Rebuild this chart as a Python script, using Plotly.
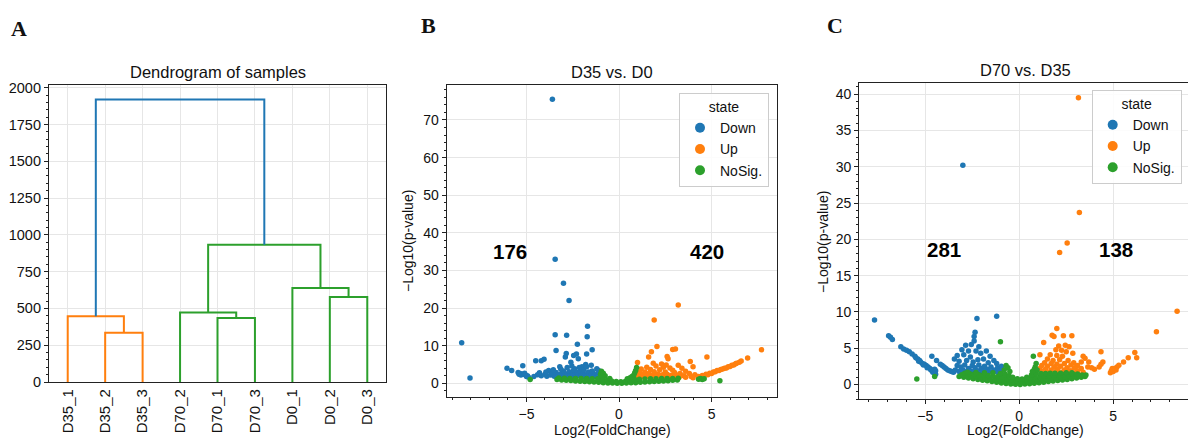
import plotly.graph_objects as go

# ---------------- data ----------------
# panel A: dendrogram (scipy style icoord / dcoord)
leaf_labels = ["D35_1", "D35_2", "D35_3", "D70_2", "D70_1", "D70_3", "D0_1", "D0_2", "D0_3"]
leaf_pos = [5, 15, 25, 35, 45, 55, 65, 75, 85]
link_x = [
    [15, 15, 25, 25],
    [5, 5, 20, 20],
    [45, 45, 55, 55],
    [35, 35, 50, 50],
    [75, 75, 85, 85],
    [65, 65, 80, 80],
    [42.5, 42.5, 72.5, 72.5],
    [12.5, 12.5, 57.5, 57.5],
]
link_y = [
    [0, 335, 335, 0],
    [0, 447, 447, 335],
    [0, 435, 435, 0],
    [0, 473, 473, 435],
    [0, 578, 578, 0],
    [0, 639, 639, 578],
    [473, 932, 932, 639],
    [447, 1920, 1920, 932],
]
link_color = ["C1", "C1", "C2", "C2", "C2", "C2", "C2", "C0"]

# panel B: D35 vs. D0 (log2FC, -log10 p)
b_down = [
    (-3.6, 75.5), (-3.45, 33.0), (-3.0, 26.6), (-2.7, 22.0), (-1.7, 15.2), (-3.45, 12.9),
    (-2.83, 12.8), (-1.72, 12.4), (-2.25, 10.4), (-8.5, 10.8), (-8.05, 1.4), (-6.05, 4.0),
    (-5.8, 3.4), (-5.2, 4.7), (-3.4, 8.7), (-1.45, 8.9), (-4.5, 6.0), (-4.2, 6.0),
    (-4.05, 6.4), (-2.85, 7.9), (-2.3, 7.8), (-2.45, 7.4), (-2.9, 7.0), (-2.2, 6.5),
    (-1.75, 7.8), (-2.6, 5.6), (-1.8, 5.0), (-2.0, 4.4), (-1.5, 4.8), (-3.2, 4.4),
    (-2.8, 4.2), (-2.4, 3.9), (-1.2, 3.9), (-1.1, 3.4),
    (-5.45, 2.9), (-5.35, 2.6), (-5.25, 2.5), (-5.15, 2.4), (-5.05, 2.2), (-4.95, 2.0),
    (-4.9, 1.7), (-5.3, 2.2), (-5.1, 2.7), (-5.0, 1.8), (-5.4, 2.4),
    (-4.4, 2.3), (-4.2, 2.0), (-4.0, 2.4), (-3.9, 1.9), (-3.8, 3.4), (-3.7, 2.2),
    (-3.6, 2.6), (-3.5, 1.9), (-3.4, 2.9), (-3.3, 2.3), (-3.2, 1.8), (-3.1, 2.7),
    (-3.0, 3.3), (-2.95, 2.1), (-2.9, 1.7), (-2.8, 2.5), (-2.7, 3.1), (-2.65, 2.0),
    (-2.6, 1.7), (-2.5, 2.6), (-2.45, 3.5), (-2.4, 2.2), (-2.3, 1.8), (-2.25, 2.9),
    (-2.2, 2.4), (-2.1, 3.2), (-2.05, 2.0), (-2.0, 1.7), (-1.95, 2.7), (-1.9, 3.6),
    (-1.85, 2.2), (-1.8, 1.9), (-1.7, 2.5), (-1.65, 3.0), (-1.6, 2.0), (-1.55, 1.7),
    (-1.5, 2.3), (-1.4, 2.8), (-1.35, 1.9), (-1.3, 2.2), (-1.2, 1.8), (-1.15, 2.5),
    (-1.1, 2.0), (-1.05, 1.6), (-4.3, 2.8), (-4.6, 1.8), (-3.95, 3.0), (-3.55, 3.6),
    (-3.15, 3.8), (-2.55, 4.6), (-2.15, 4.2), (-1.75, 4.4), (-1.45, 3.3),
]
b_up = [
    (3.2, 20.8), (1.9, 16.8), (2.05, 9.8), (2.9, 9.0), (3.05, 9.1), (7.7, 8.9),
    (4.75, 7.0), (6.95, 6.7), (1.6, 7.0), (1.75, 8.4), (2.6, 7.1), (2.65, 6.5),
    (3.85, 5.8), (1.0, 5.5), (1.85, 5.3), (2.3, 5.1), (2.55, 4.9), (3.2, 4.8),
    (2.0, 4.6), (2.4, 4.3), (1.5, 4.3), (2.75, 4.1), (3.4, 4.0), (1.2, 3.8),
    (1.7, 3.7), (2.2, 3.6), (2.9, 3.5), (3.6, 3.2), (1.1, 3.1), (1.4, 3.0),
    (1.9, 3.1), (2.5, 3.0), (3.0, 2.9), (3.3, 2.6), (1.05, 2.5), (1.3, 2.4),
    (1.6, 2.6), (1.8, 2.2), (2.1, 2.5), (2.35, 2.3), (2.6, 2.4), (2.8, 2.1),
    (3.1, 2.2), (3.5, 2.0), (1.0, 1.9), (1.25, 1.8), (1.5, 1.9), (1.75, 1.7),
    (2.0, 1.8), (2.25, 1.9), (2.5, 1.7), (2.75, 1.8), (3.0, 1.7), (3.25, 1.6),
    (3.6, 1.6), (3.9, 1.8), (4.1, 2.3), (3.8, 2.6), (4.0, 4.4), (4.0, 1.5),
    (4.3, 1.8), (4.5, 2.1), (4.7, 2.4), (4.9, 2.7), (5.1, 3.0), (5.3, 3.4),
    (5.5, 3.7), (5.7, 4.0), (5.9, 4.4), (6.1, 4.8), (6.3, 5.2), (6.5, 5.6),
    (6.6, 5.9), (4.6, 2.0), (4.8, 2.3), (5.0, 2.6), (5.2, 3.1), (5.4, 3.4),
    (5.6, 3.8), (5.8, 4.1), (6.0, 4.5), (6.2, 4.9), (6.35, 5.3),
]
b_nosig = [
    (-3.35, 1.0), (-3.1, 0.9), (-2.85, 0.8), (-2.6, 0.72), (-2.35, 0.62), (-2.1, 0.55),
    (-1.85, 0.48), (-1.6, 0.4), (-1.35, 0.32), (-1.1, 0.25), (-0.85, 0.18), (-0.6, 0.1),
    (-0.35, 0.05), (-0.1, 0.0), (0.15, 0.02), (0.4, 0.06), (0.65, 0.12), (0.9, 0.18),
    (1.15, 0.25), (1.4, 0.32), (1.65, 0.4), (1.9, 0.48), (2.15, 0.55), (2.4, 0.62),
    (2.65, 0.7), (2.9, 0.8), (3.15, 0.9),
    (-3.25, 1.4), (-2.95, 1.35), (-2.65, 1.3), (-2.35, 1.3), (-2.05, 1.25), (-1.75, 1.25),
    (-1.45, 1.2), (-1.15, 1.2), (-0.9, 1.1), (-0.65, 0.8), (-0.4, 0.6), (-0.15, 0.45),
    (0.1, 0.4), (0.35, 0.55), (0.6, 0.75), (0.85, 1.0), (1.1, 1.1), (1.4, 1.15),
    (1.7, 1.2), (2.0, 1.2), (2.3, 1.25), (2.6, 1.3), (2.9, 1.3), (3.2, 1.35),
    (-1.0, 2.4), (-0.95, 3.2), (-0.85, 2.7), (-0.75, 2.0), (-0.9, 1.7), (0.95, 4.2),
    (0.9, 3.4), (0.85, 2.8), (0.8, 2.2), (0.7, 1.8), (0.6, 1.5), (-4.8, 1.0),
    (4.3, 1.1), (4.4, 1.3), (4.5, 1.0), (4.6, 1.2), (5.45, 0.7), (-0.5, 1.3), (0.45, 1.2),
]
b_counts = [(-5.9, 35, "176"), (4.75, 35, "420")]

# panel C: D70 vs. D35
c_down = [
    (-3.0, 30.2), (-7.7, 8.9), (-6.95, 6.7), (-6.85, 6.5), (-6.75, 6.2),
    (-6.3, 5.2), (-6.15, 4.9), (-6.0, 4.7), (-5.85, 4.5), (-5.7, 4.2), (-5.55, 3.9),
    (-5.5, 3.7), (-5.4, 3.5), (-5.3, 3.3), (-5.25, 3.1), (-5.15, 2.9), (-5.05, 2.8),
    (-4.95, 2.6), (-4.85, 2.4), (-4.75, 2.2), (-4.65, 2.0), (-4.55, 1.8), (-4.5, 1.6),
    (-4.45, 1.4), (-5.35, 3.2), (-5.1, 2.7), (-4.9, 2.3), (-4.7, 2.0), (-4.6, 1.7),
    (-4.5, 2.1), (-4.45, 1.9),
    (-4.65, 3.9), (-4.4, 3.3), (-4.2, 2.8), (-4.1, 2.6), (-4.0, 2.4), (-3.9, 2.2),
    (-3.8, 2.0), (-3.7, 1.9), (-3.6, 1.8), (-3.5, 1.7),
    (-2.25, 9.1), (-1.2, 9.4), (-2.35, 7.2), (-2.4, 6.6), (-2.4, 6.0), (-2.55, 5.5),
    (-2.85, 5.4), (-2.15, 5.2), (-3.05, 4.8), (-2.7, 4.6), (-2.3, 4.6), (-1.75, 4.6),
    (-3.3, 4.0), (-2.95, 4.1), (-2.05, 4.3), (-1.55, 3.9), (-3.45, 3.5), (-2.6, 3.8),
    (-1.9, 3.5), (-1.35, 3.3), (-3.2, 3.2), (-2.8, 3.3), (-2.45, 3.1), (-2.2, 3.4),
    (-1.65, 3.0), (-1.2, 2.9),
    (-3.3, 2.6), (-3.1, 2.4), (-2.9, 2.7), (-2.7, 2.2), (-2.5, 2.6), (-2.35, 2.3),
    (-2.15, 2.7), (-2.0, 2.2), (-1.85, 2.5), (-1.7, 2.1), (-1.5, 2.4), (-1.35, 2.0),
    (-1.15, 2.3), (-1.05, 1.9), (-3.4, 2.0), (-3.2, 1.8), (-3.0, 2.0), (-2.8, 1.8),
    (-2.6, 1.9), (-2.4, 1.8), (-2.2, 1.9), (-2.0, 1.8), (-1.8, 1.9), (-1.6, 1.8),
    (-1.4, 1.7), (-1.2, 1.8), (-1.0, 1.7), (-0.95, 2.5), (-0.9, 2.1),
]
c_up = [
    (3.15, 39.5), (3.2, 23.7), (2.55, 19.5), (2.15, 18.2), (8.4, 10.1), (7.3, 7.25),
    (2.0, 7.7), (1.75, 6.8), (1.85, 6.6), (2.35, 6.7), (2.8, 6.7), (1.3, 5.8),
    (2.1, 5.3), (2.45, 5.4), (2.65, 5.2), (1.95, 4.8), (2.25, 4.7), (2.5, 4.5),
    (2.85, 4.3), (1.65, 4.1), (2.0, 4.0), (2.3, 3.9), (3.4, 3.9), (3.5, 3.6),
    (3.3, 3.1), (1.1, 4.1), (4.35, 4.5), (6.15, 4.4), (6.25, 3.7), (4.45, 3.1),
    (1.5, 3.5), (1.8, 3.3), (2.15, 3.4), (2.6, 3.3), (2.9, 3.0), (1.35, 3.0),
    (1.7, 2.9), (2.0, 2.8), (2.4, 2.9), (2.75, 2.7), (3.1, 2.6), (3.7, 3.1),
    (3.65, 2.4), (1.2, 2.6), (1.5, 2.5), (1.85, 2.4), (2.2, 2.5), (2.55, 2.3),
    (2.95, 2.3), (3.3, 2.2), (1.1, 2.2), (1.4, 2.1), (1.7, 2.0), (2.05, 2.1),
    (2.4, 2.0), (2.75, 1.9), (3.1, 1.9), (1.25, 1.8), (1.6, 1.7), (1.95, 1.8),
    (2.3, 1.7), (2.65, 1.7), (3.0, 1.6), (3.4, 1.7),
    (4.0, 2.1), (3.85, 2.3), (4.25, 2.4), (4.35, 2.8),
    (4.85, 1.6), (4.9, 1.9), (5.0, 2.1), (5.1, 2.2), (5.2, 2.4), (5.3, 2.65),
    (5.55, 3.1), (5.8, 3.7), (5.0, 1.8), (5.15, 2.0), (4.95, 2.2),
]
c_nosig = [
    (-3.2, 1.1), (-2.95, 1.0), (-2.7, 0.9), (-2.45, 0.8), (-2.2, 0.7), (-1.95, 0.6),
    (-1.7, 0.5), (-1.45, 0.4), (-1.2, 0.3), (-0.95, 0.22), (-0.7, 0.15), (-0.45, 0.08),
    (-0.2, 0.02), (0.05, 0.0), (0.3, 0.05), (0.55, 0.1), (0.8, 0.18), (1.05, 0.25),
    (1.3, 0.32), (1.55, 0.4), (1.8, 0.48), (2.05, 0.55), (2.3, 0.62), (2.55, 0.7),
    (2.8, 0.8), (3.05, 0.9), (3.3, 1.0), (3.5, 1.1),
    (-3.05, 1.35), (-2.8, 1.25), (-2.55, 1.15), (-2.3, 1.05), (-2.05, 0.95), (-1.8, 0.85),
    (-1.55, 0.78), (-1.3, 0.7), (-1.05, 0.62), (-0.8, 0.52), (-0.55, 0.42), (-0.3, 0.32),
    (-0.05, 0.25), (0.2, 0.3), (0.45, 0.4), (0.7, 0.5), (0.95, 0.6), (1.2, 0.7),
    (1.45, 0.75), (1.7, 0.82), (1.95, 0.88), (2.2, 0.95), (2.45, 1.0), (2.7, 1.08),
    (2.95, 1.15), (3.2, 1.2),
    (-2.9, 1.55), (-2.65, 1.5), (-2.4, 1.42), (-2.15, 1.35), (-1.9, 1.3), (-1.65, 1.25),
    (-1.4, 1.2), (-1.15, 1.1), (-0.9, 1.0), (-0.65, 0.85), (-0.4, 0.7), (-0.15, 0.55),
    (0.1, 0.5), (0.35, 0.7), (0.6, 0.85), (0.85, 1.0), (1.1, 1.1), (1.35, 1.15),
    (1.6, 1.2), (1.85, 1.25), (2.1, 1.3), (2.35, 1.35), (2.6, 1.35), (2.85, 1.4),
    (3.1, 1.45), (3.35, 1.3),
    (-2.75, 1.7), (-2.3, 1.65), (-1.85, 1.6), (-1.4, 1.6), (-1.0, 1.5), (-0.75, 1.4),
    (-0.55, 1.2), (-0.35, 1.0), (-0.1, 0.8), (0.15, 0.75), (0.4, 1.0), (0.65, 1.3),
    (0.9, 1.5), (1.15, 1.5), (1.4, 1.5), (1.65, 1.55), (1.9, 1.55), (2.2, 1.55),
    (2.5, 1.6), (2.8, 1.6),
    (-1.0, 5.9), (0.75, 3.9), (-0.7, 2.6), (-0.6, 2.3), (-0.8, 2.0), (-0.5, 1.8),
    (0.9, 2.9), (0.85, 2.4), (0.8, 2.1), (0.95, 2.0), (0.7, 1.8), (-5.45, 0.75),
    (-4.5, 1.1), (3.55, 1.3),
]
c_counts = [(-3.98, 18.6, "281"), (5.14, 18.6, "138")]

states = ["Down", "Up", "NoSig."]

# ---------------- style ----------------
W, H = 1188, 442
COLORS = {"C0": "#1f77b4", "C1": "#ff7f0e", "C2": "#2ca02c"}
state_color = {"Down": "#1f77b4", "Up": "#ff7f0e", "NoSig.": "#2ca02c"}
FONT = "Liberation Sans, Arial, sans-serif"


def px(x):
    return x / W


def py(y):
    return 1 - y / H


axis_style = dict(
    showline=True, linecolor="#222", linewidth=1.2, mirror=True, automargin=False,
    ticks="outside", ticklen=4, tickwidth=1, tickcolor="#222",
    showgrid=True, gridcolor="#e6e6e6", gridwidth=1, zeroline=False,
    tickfont=dict(size=14, color="#111", family=FONT),
)


def minor(dtick):
    return dict(ticks="outside", ticklen=2, tickwidth=1, tickcolor="#222",
                dtick=dtick, showgrid=False)


fig = go.Figure()

# dendrogram
for xs, ys, c in zip(link_x, link_y, link_color):
    fig.add_trace(go.Scatter(x=xs, y=ys, mode="lines", line=dict(color=COLORS[c], width=2),
                             xaxis="x", yaxis="y", showlegend=False, hoverinfo="skip"))


def add_volcano(groups, xa, ya, legend):
    for name, pts in zip(states, groups):
        fig.add_trace(go.Scatter(
            x=[p[0] for p in pts], y=[p[1] for p in pts], mode="markers",
            marker=dict(size=5.5, color=state_color[name], line=dict(width=0)),
            xaxis=xa, yaxis=ya, showlegend=False, hoverinfo="skip"))
    # legend entries (bigger dots like the seaborn legend)
    for name in states:
        fig.add_trace(go.Scatter(
            x=[None], y=[None], mode="markers", name=name,
            marker=dict(size=10, color=state_color[name]),
            xaxis=xa, yaxis=ya, legend=legend))


add_volcano([b_down, b_up, b_nosig], "x2", "y2", "legend")
add_volcano([c_down, c_up, c_nosig], "x3", "y3", "legend2")

annotations = []
for xa, counts in (("x2", b_counts), ("x3", c_counts)):
    for x, y, t in counts:
        annotations.append(dict(x=x, y=y, xref=xa, yref=xa.replace("x", "y"),
                                text="<b>%s</b>" % t, showarrow=False,
                                font=dict(size=20.5, family=FONT, color="#000"),
                                xanchor="center", yanchor="middle"))


def label(x, y, text, size, angle=0, family=FONT):
    annotations.append(dict(x=px(x), y=py(y), xref="paper", yref="paper", text=text,
                            showarrow=False, textangle=angle, xanchor="center",
                            yanchor="middle", font=dict(size=size, family=family, color="#111")))


label(217.5, 72, "Dendrogram of samples", 16.5)
label(612, 72, "D35 vs. D0", 16.5)
label(1025, 70, "D70 vs. D35", 16.5)
label(612, 430, "Log2(FoldChange)", 14)
label(1025, 430, "Log2(FoldChange)", 14)
label(408, 241, "\u2212Log10(p-value)", 14, -90)
label(823, 242, "\u2212Log10(p-value)", 14, -90)
serif = "Liberation Serif, Times New Roman, serif"
label(19, 28, "<b>A</b>", 22, family=serif)
label(428, 25, "<b>B</b>", 22, family=serif)
label(835, 25, "<b>C</b>", 22, family=serif)

legend_common = dict(
    title=dict(text="state", side="top center", font=dict(size=14, family=FONT)),
    bgcolor="rgba(255,255,255,0.85)", bordercolor="#cccccc", borderwidth=1,
    font=dict(size=14, family=FONT, color="#111"), itemsizing="trace",
    yanchor="top", tracegroupgap=0,
)

fig.update_layout(
    width=W, height=H, margin=dict(l=0, r=0, t=0, b=0, autoexpand=False),
    plot_bgcolor="white", paper_bgcolor="white",
    font=dict(family=FONT, color="#111"),
    annotations=annotations,
    xaxis=dict(axis_style, domain=[px(49), px(386)], anchor="y", range=[0, 90],
               tickvals=leaf_pos, ticktext=leaf_labels, tickangle=-90, ticks="",
               tickfont=dict(size=15, color="#111", family=FONT)),
    yaxis=dict(axis_style, domain=[py(382), py(85)], anchor="x", range=[0, 2018],
               dtick=250, minor=minor(50), tickfont=dict(size=14.5, color="#111", family=FONT)),
    xaxis2=dict(axis_style, domain=[px(446.7), px(776.7)], anchor="y2", range=[-9.31, 8.52],
                dtick=5, minor=minor(1)),
    yaxis2=dict(axis_style, domain=[py(396.7), py(85)], anchor="x2", range=[-3.56, 79.3],
                dtick=10, minor=minor(2)),
    xaxis3=dict(axis_style, domain=[px(859.3), 1.0], anchor="y3", range=[-8.51, 8.98],
                dtick=5, minor=minor(1)),
    yaxis3=dict(axis_style, domain=[py(399), py(83.3)], anchor="x3", range=[-2.0, 41.5],
                dtick=5, minor=minor(1), mirror=False),
    legend=dict(legend_common, x=px(769), xanchor="right", y=py(93)),
    legend2=dict(legend_common, x=px(1091.7), xanchor="left", y=py(90)),
)

# page body has a default 8px margin; drop it so the figure fills the window
fig.write_html("out.html", config={"displayModeBar": False},
               post_script="document.body.style.margin='0';")
